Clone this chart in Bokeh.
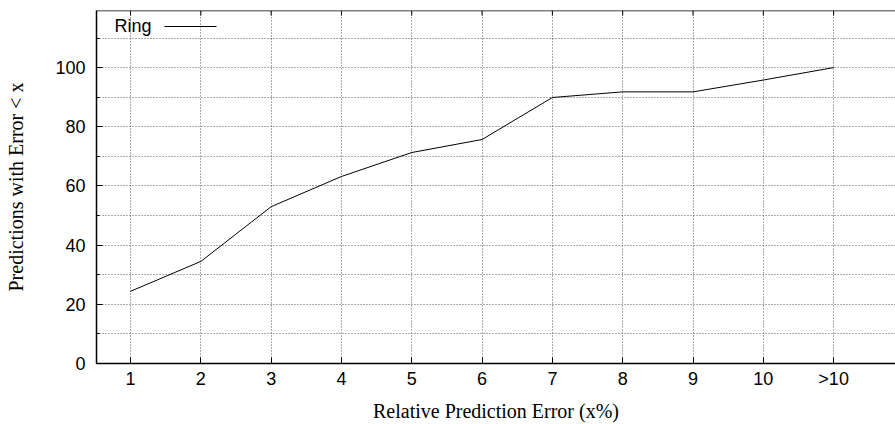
from bokeh.plotting import figure
from bokeh.models import (Range1d, FixedTicker, SingleIntervalTicker, Label, Arrow, Span)
from bokeh.embed import file_html
from bokeh.resources import INLINE

# ---- data ----
x_ticks = [1, 2, 3, 4, 5, 6, 7, 8, 9, 10, 11]
x_labels = ["1", "2", "3", "4", "5", "6", "7", "8", "9", "10", ">10"]
ring = [24.4, 34.5, 53.0, 63.2, 71.3, 75.7, 89.9, 91.8, 91.8, 95.8, 100.0]
series_name = "Ring"
y_top = 119.3
top_tick_len = 1.7  # in y units (mirrored gnuplot ticks on the top border)

TICK_FONT = "Liberation Sans"
LABEL_FONT = "Liberation Serif"

p = figure(width=895, height=424, output_backend="svg", toolbar_location=None,
           x_range=Range1d(0.516, 11.88), y_range=Range1d(0, y_top),
           min_border_left=96, min_border_right=0, min_border_top=10,
           min_border_bottom=61)
p.outline_line_color = None
p.background_fill_color = "white"
p.border_fill_color = "white"

p.line(x_ticks, ring, line_color="black", line_width=1)

# x axis
xa = p.xaxis[0]
xa.ticker = FixedTicker(ticks=x_ticks)
xa.major_label_overrides = {t: l for t, l in zip(x_ticks, x_labels)}
xa.axis_label = "Relative Prediction Error (x%)"
xa.axis_label_text_font = LABEL_FONT
xa.axis_label_text_font_style = "normal"
xa.axis_label_text_font_size = "20px"
xa.axis_label_text_color = "black"
xa.axis_label_standoff = 8
xa.major_label_text_font = TICK_FONT
xa.major_label_text_font_size = "18px"
xa.major_label_text_color = "black"
xa.major_label_standoff = 5
xa.major_tick_in = 6
xa.major_tick_out = 0
xa.minor_tick_line_color = None
xa.axis_line_color = "black"
xa.axis_line_width = 1.5
xa.major_tick_line_color = "black"

# y axis
ya = p.yaxis[0]
ya.ticker = SingleIntervalTicker(interval=20, num_minor_ticks=2)
ya.axis_label = "Predictions with Error < x"
ya.axis_label_text_font = LABEL_FONT
ya.axis_label_text_font_style = "normal"
ya.axis_label_text_font_size = "20px"
ya.axis_label_text_color = "black"
ya.axis_label_standoff = 25
ya.major_label_text_font = TICK_FONT
ya.major_label_text_font_size = "18px"
ya.major_label_text_color = "black"
ya.major_label_standoff = 11
ya.major_tick_in = 6
ya.major_tick_out = 0
ya.minor_tick_in = 3
ya.minor_tick_out = 0
ya.minor_tick_line_color = "black"
ya.axis_line_color = "black"
ya.axis_line_width = 1.5
ya.major_tick_line_color = "black"

# top border with mirrored ticks
p.add_layout(Span(location=y_top, dimension="width", line_color="black", line_width=1.5))
p.segment(x0=x_ticks, y0=[y_top] * len(x_ticks), x1=x_ticks,
          y1=[y_top - top_tick_len] * len(x_ticks), line_color="black", line_width=1)

# grids
p.xgrid.ticker = FixedTicker(ticks=x_ticks)
p.ygrid.ticker = SingleIntervalTicker(interval=10)
for g in (p.xgrid[0], p.ygrid[0]):
    g.grid_line_color = "#333333"
    g.grid_line_dash = "1 2"
    g.grid_line_width = 1
    g.grid_line_alpha = 0.8

# legend (gnuplot style: label then line sample)
p.add_layout(Label(x=18, y=337.5, x_units="screen", y_units="screen", text=series_name,
                   text_font=TICK_FONT, text_font_size="18px", text_color="black",
                   text_baseline="middle", text_align="left"))
p.add_layout(Arrow(end=None, start=None, x_start=68, y_start=337, x_end=120, y_end=337,
                   start_units="screen", end_units="screen",
                   line_color="black", line_width=1))

open("out.html", "w").write(file_html(p, INLINE))
